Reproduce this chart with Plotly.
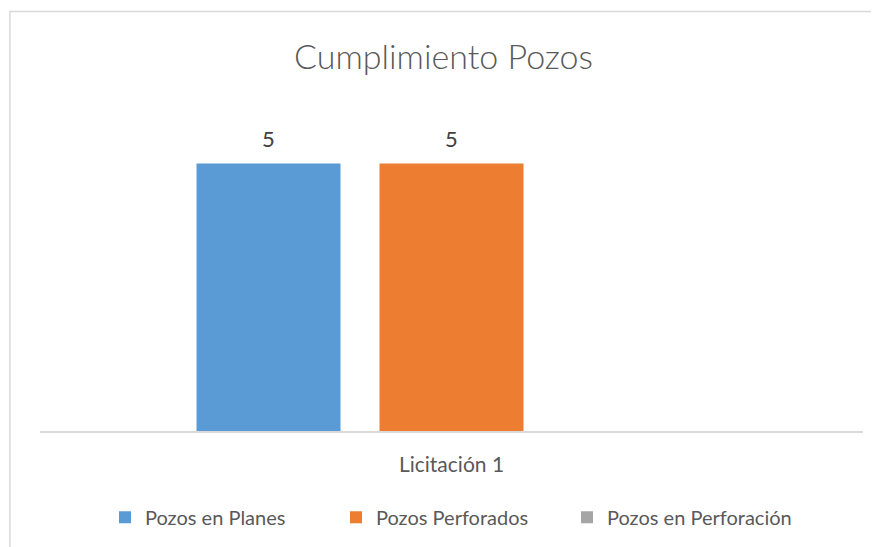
import plotly.graph_objects as go

# datos del gráfico
categorias = ["Licitación 1"]
series = ["Pozos en Planes", "Pozos Perforados", "Pozos en Perforación"]
valores = [[5], [5], [None]]
colores = ["#5b9bd5", "#ed7d31", "#a5a5a5"]

# la página tiene 8 px de margen en el body, se compensa aquí
ANCHO, ALTO = 871, 539
M_IZQ, M_DER, M_SUP, M_INF = 32, 16, 102, 115
BARGAP, GROUPGAP = 0.333, 0.213

fig = go.Figure()
for nombre, vals, color in zip(series, valores, colores):
    fig.add_trace(go.Bar(
        x=categorias, y=vals, name=nombre,
        marker=dict(color=color, line=dict(width=0)),
    ))

# etiquetas de datos (separadas de la barra como en Excel)
ancho_plot = ANCHO - M_IZQ - M_DER
slot = ancho_plot * (1 - BARGAP) / len(series)
for i, vals in enumerate(valores):
    for cat, v in zip(categorias, vals):
        if v is None:
            continue
        fig.add_annotation(
            x=cat, y=v, text=str(v), showarrow=False,
            xshift=(i - (len(series) - 1) / 2) * slot, yshift=25,
            yanchor="middle",
            font=dict(family="Lato", size=22, color="#404040"),
        )

fig.update_layout(
    width=ANCHO, height=ALTO,
    paper_bgcolor="white", plot_bgcolor="white",
    margin=dict(l=M_IZQ, r=M_DER, t=M_SUP, b=M_INF),
    barmode="group", bargap=BARGAP, bargroupgap=GROUPGAP,
    font=dict(family="Lato", color="#595959"),
    title=dict(
        text="Cumplimiento Pozos", x=0.5, xanchor="center",
        y=0.909, yanchor="middle",
        font=dict(family="Lato", size=34, color="#595959", weight=300),
    ),
    xaxis=dict(
        showline=True, linecolor="#d9d9d9", linewidth=1.5,
        ticks="", tickfont=dict(size=21, color="#595959"), ticklabelstandoff=14,
        showgrid=False, zeroline=False,
    ),
    yaxis=dict(range=[0, 6], visible=False, showgrid=False, zeroline=False),
    legend=dict(
        orientation="h", x=0.5, xanchor="center", y=-0.265, yanchor="middle",
        font=dict(size=20, color="#595959"), itemclick=False,
        traceorder="normal", entrywidth=186, itemwidth=30,
    ),
    shapes=[dict(
        type="rect", xref="paper", yref="paper",
        x0=-0.0365, x1=1.04, y0=-0.5, y1=1.307,
        line=dict(color="#d9d9d9", width=1.5), fillcolor="rgba(0,0,0,0)",
        layer="below",
    )],
)

fig.write_html("out.html")
